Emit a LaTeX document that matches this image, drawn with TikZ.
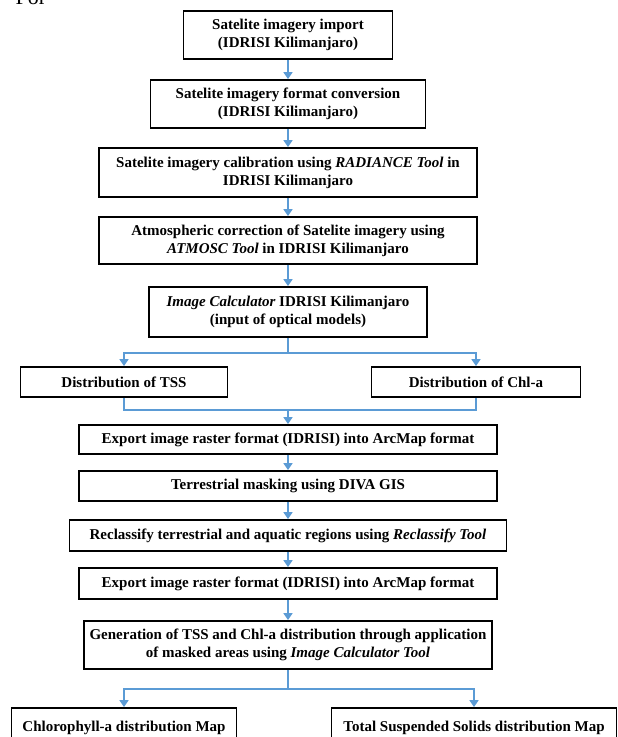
\documentclass[tikz,border=0pt]{standalone}
\usepackage{fontspec}
\setmainfont{Liberation Serif}
\usetikzlibrary{arrows.meta}
\definecolor{flowblue}{RGB}{91,155,213}

\begin{document}
\begin{tikzpicture}[
  x=1pt, y=-1pt,
  box/.style={draw, line width=1.8pt, align=center, inner sep=0pt, font=\fontsize{15}{18}\selectfont\bfseries},
  arr/.style={-{Triangle[width=9pt,length=7pt]}, flowblue, line width=1.6pt},
  link/.style={flowblue, line width=1.6pt}
]
\useasboundingbox (0,0) rectangle (618,737);
\clip (0,0) rectangle (618,737);
\node[anchor=base west, font=\fontsize{22}{26}\selectfont] (for) at (12,4.5) {For};
% preprocessing chain
\node[box, minimum width=209pt, minimum height=48pt] (imp) at (288,35) {Satelite imagery import\\(IDRISI Kilimanjaro)};
\node[box, minimum width=275pt, minimum height=48pt] (conv) at (288,104) {Satelite imagery format conversion\\(IDRISI Kilimanjaro)};
\node[box, minimum width=378pt, minimum height=49pt] (calib) at (288,172.5) {Satelite imagery calibration using \textit{RADIANCE Tool} in\\IDRISI Kilimanjaro};
\node[box, minimum width=378pt, minimum height=47pt] (atmos) at (288,240.5) {Atmospheric correction of Satelite imagery using\\\textit{ATMOSC Tool} in IDRISI Kilimanjaro};
\node[box, minimum width=278pt, minimum height=50pt] (calc) at (288,312) {\textit{Image Calculator} IDRISI Kilimanjaro\\(input of optical models)};
\draw[arr] (imp) -- (conv);
\draw[arr] (conv) -- (calib);
\draw[arr] (calib) -- (atmos);
\draw[arr] (atmos) -- (calc);
% split into the two parameters
\node[box, minimum width=207pt, minimum height=30pt] (tss) at (124,382) {Distribution of TSS};
\node[box, minimum width=209pt, minimum height=30pt] (chl) at (476,382) {Distribution of Chl-a};
\coordinate (fork1) at (288,353);
\draw[link] (calc) -- (fork1);
\draw[arr] (fork1) -| (tss);
\draw[arr] (fork1) -| (chl);
% masking chain
\node[box, minimum width=418pt, minimum height=29pt] (exp1) at (288,439.5) {Export image raster format (IDRISI) into ArcMap format};
\node[box, minimum width=418pt, minimum height=30pt] (mask) at (288,486) {Terrestrial masking using DIVA GIS};
\node[box, minimum width=437pt, minimum height=31pt] (recl) at (288,535.5) {Reclassify terrestrial and aquatic regions using \textit{Reclassify Tool}};
\node[box, minimum width=418pt, minimum height=31pt] (exp2) at (288,583.5) {Export image raster format (IDRISI) into ArcMap format};
\node[box, minimum width=408pt, minimum height=48pt] (gen) at (288,645) {Generation of TSS and Chl-a distribution through application\\of masked areas using \textit{Image Calculator Tool}};
\coordinate (join1) at (288,410);
\draw[link] (tss) |- (join1);
\draw[link] (chl) |- (join1);
\draw[arr] (join1) -- (exp1);
\draw[arr] (exp1) -- (mask);
\draw[arr] (mask) -- (recl);
\draw[arr] (recl) -- (exp2);
\draw[arr] (exp2) -- (gen);
% output maps
\node[box, minimum width=225pt, minimum height=40pt] (chlmap) at (124,728) {Chlorophyll-a distribution Map};
\node[box, minimum width=285pt, minimum height=40pt] (tssmap) at (474,728) {Total Suspended Solids distribution Map};
\coordinate (fork2) at (288,689);
\draw[link] (gen) -- (fork2);
\draw[arr] (fork2) -| (chlmap);
\draw[arr] (fork2) -| (tssmap);
\end{tikzpicture}
\end{document}
